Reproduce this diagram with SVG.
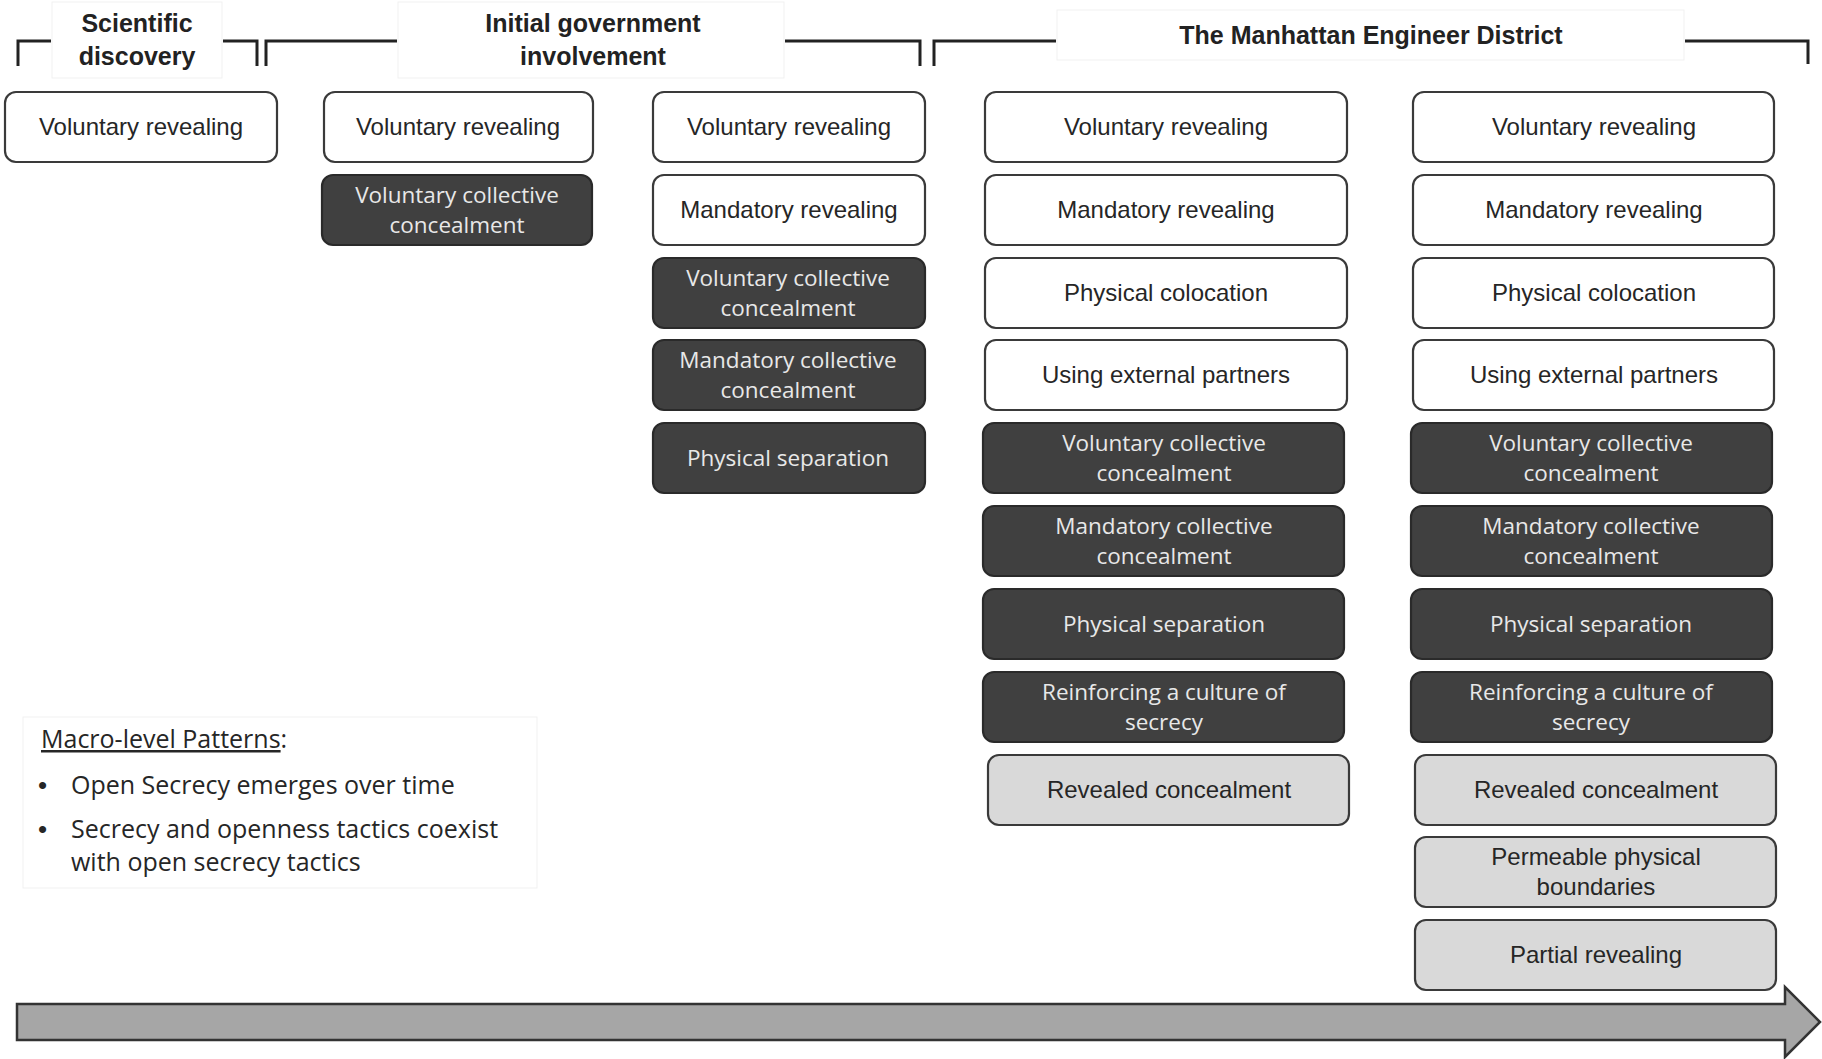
<svg xmlns="http://www.w3.org/2000/svg" width="1822" height="1059" viewBox="0 0 1822 1059">
<style>
.w{fill:#ffffff;stroke:#3a3a3a;stroke-width:2.2}
.d{fill:#404040;stroke:#2a2a2a;stroke-width:2.2}
.g{fill:#d9d9d9;stroke:#3a3a3a;stroke-width:2.2}
.tw{font-family:"Liberation Sans",Arial,sans-serif;font-size:24px;fill:#262626;text-anchor:middle}
.td{font-family:"Open Sans","DejaVu Sans",sans-serif;font-size:22.5px;fill:#e8e8e8;text-anchor:middle}
.hd{font-family:"Liberation Sans",Arial,sans-serif;font-size:25px;font-weight:bold;fill:#222;text-anchor:middle}
.br{fill:none;stroke:#222;stroke-width:3}
.lab{fill:#ffffff;stroke:#f1f1f1;stroke-width:1}
.lg{font-family:"Open Sans","DejaVu Sans",sans-serif;font-size:25px;fill:#262626}
.bu{font-family:"Liberation Sans",Arial,sans-serif;font-size:26px;fill:#262626}
</style>
<rect width="1822" height="1059" fill="#ffffff"/>

<g id="headers">
  <path class="br" d="M18,66 V41 H51 M223,41 H257 V66"/>
  <path class="br" d="M266,66 V41 H397 M785,41 H920 V66"/>
  <path class="br" d="M934,66 V41 H1056 M1685,41 H1808 V64"/>
  <rect class="lab" x="52" y="2" width="170" height="76"/>
  <rect class="lab" x="398" y="2" width="386" height="76"/>
  <rect class="lab" x="1057" y="10" width="627" height="50"/>
  <text class="hd" x="137" y="32">Scientific</text>
  <text class="hd" x="137" y="65">discovery</text>
  <text class="hd" x="593" y="32">Initial government</text>
  <text class="hd" x="593" y="65">involvement</text>
  <text class="hd" x="1371" y="44">The Manhattan Engineer District</text>
</g>

<g id="col1">
  <g id="c1r0"><rect class="w" x="5" y="92" width="272" height="70" rx="11"/><text class="tw" x="141" y="135">Voluntary revealing</text></g>
</g>

<g id="col2">
  <g id="c2r0"><rect class="w" x="324" y="92" width="269" height="70" rx="11"/><text class="tw" x="458" y="135">Voluntary revealing</text></g>
  <g id="c2r1"><rect class="d" x="322" y="175" width="270" height="70" rx="11"/><text class="td" x="457" y="203">Voluntary collective</text><text class="td" x="457" y="233">concealment</text></g>
</g>

<g id="col3">
  <g id="c3r0"><rect class="w" x="653" y="92" width="272" height="70" rx="11"/><text class="tw" x="789" y="135">Voluntary revealing</text></g>
  <g id="c3r1"><rect class="w" x="653" y="175" width="272" height="70" rx="11"/><text class="tw" x="789" y="218">Mandatory revealing</text></g>
  <g id="c3r2"><rect class="d" x="653" y="258" width="272" height="70" rx="11"/><text class="td" x="788" y="286">Voluntary collective</text><text class="td" x="788" y="316">concealment</text></g>
  <g id="c3r3"><rect class="d" x="653" y="340" width="272" height="70" rx="11"/><text class="td" x="788" y="368">Mandatory collective</text><text class="td" x="788" y="398">concealment</text></g>
  <g id="c3r4"><rect class="d" x="653" y="423" width="272" height="70" rx="11"/><text class="td" x="788" y="466">Physical separation</text></g>
</g>

<g id="col4">
  <g id="c4r0"><rect class="w" x="985" y="92" width="362" height="70" rx="11"/><text class="tw" x="1166" y="135">Voluntary revealing</text></g>
  <g id="c4r1"><rect class="w" x="985" y="175" width="362" height="70" rx="11"/><text class="tw" x="1166" y="218">Mandatory revealing</text></g>
  <g id="c4r2"><rect class="w" x="985" y="258" width="362" height="70" rx="11"/><text class="tw" x="1166" y="301">Physical colocation</text></g>
  <g id="c4r3"><rect class="w" x="985" y="340" width="362" height="70" rx="11"/><text class="tw" x="1166" y="383">Using external partners</text></g>
  <g id="c4r4"><rect class="d" x="983" y="423" width="361" height="70" rx="11"/><text class="td" x="1164" y="451">Voluntary collective</text><text class="td" x="1164" y="481">concealment</text></g>
  <g id="c4r5"><rect class="d" x="983" y="506" width="361" height="70" rx="11"/><text class="td" x="1164" y="534">Mandatory collective</text><text class="td" x="1164" y="564">concealment</text></g>
  <g id="c4r6"><rect class="d" x="983" y="589" width="361" height="70" rx="11"/><text class="td" x="1164" y="632">Physical separation</text></g>
  <g id="c4r7"><rect class="d" x="983" y="672" width="361" height="70" rx="11"/><text class="td" x="1164" y="700">Reinforcing a culture of</text><text class="td" x="1164" y="730">secrecy</text></g>
  <g id="c4r8"><rect class="g" x="988" y="755" width="361" height="70" rx="11"/><text class="tw" x="1169" y="798">Revealed concealment</text></g>
</g>

<g id="col5">
  <g id="c5r0"><rect class="w" x="1413" y="92" width="361" height="70" rx="11"/><text class="tw" x="1594" y="135">Voluntary revealing</text></g>
  <g id="c5r1"><rect class="w" x="1413" y="175" width="361" height="70" rx="11"/><text class="tw" x="1594" y="218">Mandatory revealing</text></g>
  <g id="c5r2"><rect class="w" x="1413" y="258" width="361" height="70" rx="11"/><text class="tw" x="1594" y="301">Physical colocation</text></g>
  <g id="c5r3"><rect class="w" x="1413" y="340" width="361" height="70" rx="11"/><text class="tw" x="1594" y="383">Using external partners</text></g>
  <g id="c5r4"><rect class="d" x="1411" y="423" width="361" height="70" rx="11"/><text class="td" x="1591" y="451">Voluntary collective</text><text class="td" x="1591" y="481">concealment</text></g>
  <g id="c5r5"><rect class="d" x="1411" y="506" width="361" height="70" rx="11"/><text class="td" x="1591" y="534">Mandatory collective</text><text class="td" x="1591" y="564">concealment</text></g>
  <g id="c5r6"><rect class="d" x="1411" y="589" width="361" height="70" rx="11"/><text class="td" x="1591" y="632">Physical separation</text></g>
  <g id="c5r7"><rect class="d" x="1411" y="672" width="361" height="70" rx="11"/><text class="td" x="1591" y="700">Reinforcing a culture of</text><text class="td" x="1591" y="730">secrecy</text></g>
  <g id="c5r8"><rect class="g" x="1415" y="755" width="361" height="70" rx="11"/><text class="tw" x="1596" y="798">Revealed concealment</text></g>
  <g id="c5r9"><rect class="g" x="1415" y="837" width="361" height="70" rx="11"/><text class="tw" x="1596" y="865">Permeable physical</text><text class="tw" x="1596" y="895">boundaries</text></g>
  <g id="c5r10"><rect class="g" x="1415" y="920" width="361" height="70" rx="11"/><text class="tw" x="1596" y="963">Partial revealing</text></g>
</g>

<g id="legend">
  <rect x="23" y="717" width="514" height="171" fill="#ffffff" stroke="#f1f1f1" stroke-width="1"/>
  <text class="lg" x="41" y="748"><tspan text-decoration="underline">Macro-level Patterns</tspan>:</text>
  <text class="bu" x="38" y="794">•</text>
  <text class="lg" x="71" y="794">Open Secrecy emerges over time</text>
  <text class="bu" x="38" y="838">•</text>
  <text class="lg" x="71" y="838">Secrecy and openness tactics coexist</text>
  <text class="lg" x="71" y="871">with open secrecy tactics</text>
</g>

<g id="connectors">
  <polygon points="17,1004 1785,1004 1785,987 1820,1022 1785,1057 1785,1040 17,1040" fill="#a6a6a6" stroke="#333333" stroke-width="2.5" stroke-linejoin="miter"/>
</g>
</svg>
